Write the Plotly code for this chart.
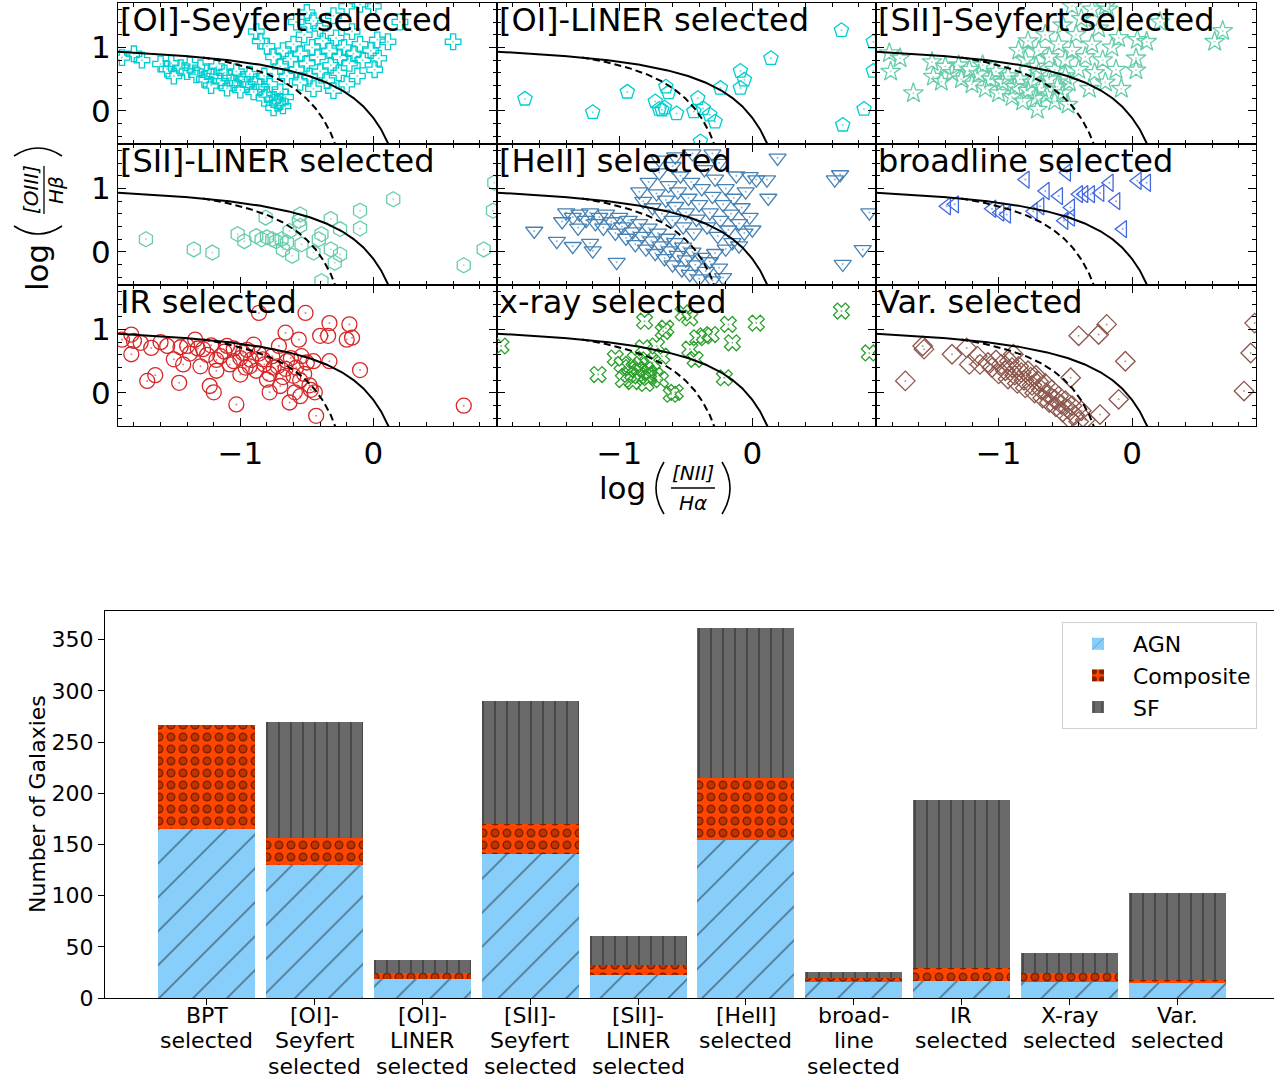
import numpy as np
import plotly.graph_objects as go

W, H = 1274, 1078

# ---------------- BPT panel data ----------------
panel_titles = ["[OI]-Seyfert selected", "[OI]-LINER selected", "[SII]-Seyfert selected",
                "[SII]-LINER selected", "[HeII] selected", "broadline selected",
                "IR selected", "x-ray selected", "Var. selected"]

oi_sey_x = [-1.89,-1.80,-1.74,-1.60,-1.55,-1.50,-1.52,-1.45,-1.40,-1.38,-1.33,-1.30,-1.27,-1.25,-1.22,-1.20,-1.18,-1.15,-1.12,-1.10,
            -1.08,-1.05,-1.03,-1.00,-0.98,-0.95,-0.93,-0.90,-0.88,-0.85,-0.82,-0.80,-0.78,-0.75,-0.72,-0.70,-0.68,-0.66,-0.82,-0.75,-0.70,
            -0.88,-0.85,-0.80,-0.75,-0.70,-0.68,-0.65,-0.62,-0.60,-0.58,-0.55,-0.55,-0.52,-0.50,-0.48,-0.46,-0.45,-0.42,-0.40,-0.40,
            -0.38,-0.35,-0.33,-0.32,-0.30,-0.28,-0.26,-0.25,-0.22,-0.20,-0.18,-0.16,-0.15,-0.12,-0.10,-0.08,
            -0.58,-0.50,-0.30,-0.20,-0.10,0.00,-0.45,
            0.03,0.11,0.04,0.01,0.20,0.60,-0.02]
oi_sey_y = [0.84,0.90,0.80,0.74,0.66,0.55,0.75,0.68,0.62,0.72,0.57,0.68,0.50,0.62,0.40,0.55,0.70,0.47,0.60,0.36,
            0.52,0.44,0.62,0.33,0.50,0.42,0.58,0.30,0.46,0.38,0.55,0.26,0.42,0.18,0.12,0.30,0.08,0.22,0.20,0.05,0.15,
            1.25,1.10,1.02,0.85,0.70,0.95,0.55,0.82,1.05,0.65,0.90,0.45,1.20,0.75,0.55,1.00,0.35,0.85,0.62,1.30,
            1.10,0.48,0.95,0.72,0.32,1.15,0.60,0.85,1.00,0.42,0.75,1.25,0.90,0.55,1.05,0.80,
            1.40,1.55,1.50,1.65,1.68,1.65,1.42,
            1.12,1.09,0.83,0.65,1.40,1.09,0.95]

oi_lin_x = [-1.71,-1.20,-0.94,-0.73,-0.68,-0.65,-0.63,-0.57,-0.44,-0.41,-0.37,-0.32,-0.28,-0.39,-0.24,-0.09,-0.06,-0.09,
            0.14,0.67,0.84,0.68,0.91,0.91,-0.70,-0.66]
oi_lin_y = [0.19,-0.02,0.30,0.15,0.02,0.38,0.29,-0.04,-0.01,0.20,0.04,-0.06,-0.17,-0.48,0.36,0.63,0.49,0.36,
            0.83,1.27,0.03,-0.22,0.63,1.09,0.03,0.05]

sii_sey_x = [-1.82,-1.74,-1.81,-1.64,-1.50,-1.49,-1.43,
             -1.40,-1.35,-1.30,-1.28,-1.22,-1.20,-1.15,-1.12,-1.10,-1.06,-1.02,-1.00,-0.97,-0.93,-0.90,-0.88,-0.84,-0.82,
             -0.78,-0.75,-0.72,-0.70,-0.68,-0.64,-0.62,-0.58,-0.56,-0.52,-0.50,-0.48,
             -0.85,-0.80,-0.78,-0.72,-0.70,-0.65,-0.62,-0.58,-0.55,-0.52,-0.50,-0.47,-0.45,-0.42,-0.40,-0.38,-0.35,-0.32,
             -0.30,-0.28,-0.25,-0.22,-0.20,-0.18,-0.15,-0.12,-0.10,-0.08,-0.20,-0.30,-0.45,
             0.04,0.11,0.03,0.03,0.62,0.68,0.21,-0.71]
sii_sey_y = [0.91,0.83,0.62,0.28,0.77,0.54,0.46,
             0.70,0.60,0.72,0.50,0.65,0.42,0.58,0.72,0.35,0.50,0.62,0.28,0.45,0.55,0.22,0.38,0.50,0.15,
             0.32,0.45,0.20,0.60,0.36,0.25,0.50,0.15,0.38,0.28,0.55,0.10,
             0.95,0.80,1.10,0.70,0.95,1.20,0.85,0.65,1.05,1.35,0.80,0.45,0.95,1.20,0.65,1.45,0.85,0.35,
             1.05,0.60,1.30,0.80,0.45,1.60,1.00,0.65,1.15,0.35,1.65,1.60,1.65,
             1.12,1.09,0.83,0.64,1.09,1.26,1.40,0.02]

sii_lin_x = [-1.71,-1.35,-1.21,-1.02,-0.97,-0.88,-0.81,-0.84,-0.80,-0.76,-0.73,-0.69,-0.65,-0.61,-0.68,-0.63,-0.56,-0.55,
             -0.55,-0.54,-0.45,-0.41,-0.39,-0.39,-0.32,-0.32,-0.29,-0.25,-0.25,-0.10,-0.10,0.15,0.68,0.83,0.90,0.91]
sii_lin_y = [0.20,0.04,-0.01,0.28,0.17,0.25,0.54,0.20,0.23,0.20,0.17,0.20,0.15,-0.06,0.04,0.33,0.49,0.59,
             0.41,0.12,-0.01,0.20,0.28,-0.46,0.52,0.04,-0.17,-0.04,0.36,0.65,0.37,0.83,-0.21,0.04,0.65,1.09]

heii_x = [0.62,0.66,0.68,0.83,0.88,0.19,0.11,0.03,0.12,-0.02,
          -1.64,-1.47,-1.35,-1.22,-1.20,-1.02,-1.43,-1.31,
          -1.40,-1.35,-1.30,-1.25,-1.22,-1.18,-1.15,-1.12,-1.10,-1.06,-1.03,-1.00,-0.98,-0.95,-0.93,-0.90,-0.88,-0.85,
          -0.83,-0.80,-0.78,-0.76,-0.73,-0.71,-0.69,-0.66,-0.64,-0.62,-0.60,-0.58,-0.56,-0.53,-0.52,-0.50,-0.47,-0.45,
          -0.43,-0.40,-0.38,-0.35,-0.32,-0.30,-0.28,-0.25,-0.22,-0.20,
          -0.85,-0.82,-0.78,-0.75,-0.72,-0.70,-0.68,-0.65,-0.63,-0.60,-0.58,-0.56,-0.54,-0.52,-0.50,-0.48,-0.46,-0.44,
          -0.42,-0.40,-0.38,-0.36,-0.34,-0.32,-0.30,-0.28,-0.26,-0.24,-0.22,-0.20,-0.18,-0.16,-0.14,-0.12,-0.10,-0.08,
          -0.06,-0.05,-0.15,-0.10,-0.02,0.00,-0.70,-0.58,-0.45,-0.30,-0.60,-0.25]
heii_y = [1.14,1.22,-0.19,0.04,0.62,1.48,1.14,1.14,0.85,1.19,
          0.33,0.17,0.09,0.14,0.02,-0.16,0.48,0.38,
          0.62,0.55,0.60,0.50,0.62,0.45,0.55,0.38,0.60,0.48,0.30,0.55,0.40,0.22,0.50,0.32,0.12,0.45,
          0.25,0.05,0.38,0.18,-0.02,0.30,0.10,-0.10,0.22,0.02,-0.20,0.15,-0.05,-0.28,0.08,-0.12,-0.35,0.00,
          -0.20,-0.42,-0.08,-0.30,-0.15,-0.45,-0.02,-0.25,-0.40,0.05,
          0.95,0.80,1.10,0.70,0.92,1.25,0.60,0.82,1.05,0.50,0.72,0.95,1.20,0.40,0.62,0.85,1.10,0.30,
          0.52,0.75,1.00,1.30,0.40,0.62,0.88,1.15,0.25,0.50,0.75,1.00,0.35,0.60,0.85,1.20,0.45,0.70,
          0.30,0.95,0.15,0.10,0.55,0.35,1.45,1.50,1.55,1.55,1.35,1.40]

bl_x = [-1.39,-1.33,-1.05,-0.99,-0.94,-0.80,-0.74,-0.69,-0.65,-0.55,-0.51,-0.49,-0.46,-0.46,-0.40,-0.36,-0.31,-0.24,
        -0.17,-0.12,-0.07,0.04,0.11]
bl_y = [0.72,0.75,0.68,0.62,0.59,1.14,0.64,0.72,0.96,0.88,0.49,1.25,0.70,0.54,0.91,0.91,0.91,0.93,
        1.09,0.80,0.36,1.12,1.09]

ir_x = [-1.89,-1.82,-1.80,-1.82,-1.75,-1.70,-1.64,-1.67,-1.55,-1.50,-1.46,-1.43,-1.40,-1.34,-1.30,-1.28,-1.23,-1.20,
        -1.18,-1.15,-1.10,-1.05,-1.03,-1.00,-0.98,-0.93,-0.90,-0.86,-0.83,-0.80,-0.78,-0.75,-0.71,-0.70,-0.66,-0.65,
        -0.63,-0.60,-0.59,-0.56,-0.55,-0.54,-0.51,-0.45,-0.44,-0.43,-0.40,-0.34,-0.33,-0.33,-0.20,-0.18,-0.16,-0.10,0.68,
        -1.60,-1.45,-1.38,-1.32,-1.25,-1.22,-1.18,-1.12,-1.08,-1.05,-1.00,-0.96,-0.95,-0.92,-0.88,-0.86,-0.82,-0.78,
        -0.76,-0.72,-0.68,-0.66,-0.62,-0.58,-0.55,-0.52,-0.50,-0.48,-0.47]
ir_y = [0.84,0.92,0.82,0.61,0.79,0.19,0.28,0.71,0.74,0.53,0.16,0.45,0.74,0.84,0.42,0.69,0.11,0.01,
        0.35,0.58,0.74,0.50,-0.18,0.29,0.63,0.42,0.76,1.26,0.53,0.21,0.01,0.40,0.74,0.11,0.95,0.50,
        -0.15,0.27,0.01,0.84,-0.05,0.58,1.26,0.50,0.01,-0.36,0.90,0.90,1.10,0.50,0.84,1.08,0.87,0.36,-0.20,
        0.80,0.72,0.62,0.70,0.60,0.75,0.52,0.65,0.45,0.70,0.55,0.40,0.68,0.52,0.35,0.62,0.45,0.30,
        0.58,0.42,0.25,0.38,0.55,0.40,0.20,0.30,0.48,0.12,0.05]

xray_x = [-1.89,-1.16,-1.03,-0.98,-0.97,-0.93,-0.88,-0.87,-0.85,-0.82,-0.81,-0.80,-0.78,-0.75,-0.72,-0.69,-0.68,
          -0.67,-0.65,-0.61,-0.58,-0.52,-0.47,-0.47,-0.43,-0.41,-0.36,-0.31,-0.21,-0.18,-0.15,0.03,0.67,0.88,
          -0.92,-0.84,-0.78,-0.73,-0.90,-0.80]
xray_y = [0.74,0.29,0.55,0.45,0.21,0.29,0.53,0.37,0.27,0.71,1.13,0.37,0.24,0.48,0.74,0.21,0.58,
          0.97,1.02,-0.02,0.01,1.26,1.18,0.69,0.53,0.87,0.90,0.92,0.24,1.08,0.79,1.10,1.29,0.63,
          0.40,0.45,0.32,0.28,0.18,0.15]

var_x = [-1.70,-1.57,-1.56,-1.35,-1.24,-1.22,-1.16,-1.14,
         -1.08,-1.05,-1.02,-1.00,-0.98,-0.95,-0.93,-0.92,-0.90,-0.88,-0.86,-0.85,-0.83,-0.81,-0.80,-0.78,-0.76,-0.75,
         -0.73,-0.72,-0.70,-0.68,-0.67,-0.65,-0.63,-0.62,-0.60,-0.58,-0.57,-0.55,-0.53,-0.52,-0.50,-0.48,-0.47,-0.45,
         -0.43,-0.40,-0.38,-0.35,
         -0.89,-0.46,-0.40,-0.25,-0.19,-0.10,-0.05,-0.24,0.84,0.89,0.92]
var_y = [0.19,0.74,0.69,0.61,0.71,0.45,0.58,0.45,
         0.48,0.40,0.52,0.30,0.45,0.35,0.22,0.50,0.40,0.28,0.15,0.42,0.32,0.20,0.08,0.35,0.25,0.12,
         0.00,0.28,0.18,0.05,-0.08,0.15,-0.02,-0.15,0.05,-0.10,-0.22,-0.05,-0.18,-0.30,-0.12,-0.25,-0.40,-0.20,
         -0.35,-0.45,-0.28,-0.42,
         0.61,0.24,0.90,0.92,1.08,-0.10,0.50,-0.34,0.03,0.63,1.10]

# ---------------- bar chart data ----------------
bar_labels = ["BPT<br>selected", "[OI]-<br>Seyfert<br>selected", "[OI]-<br>LINER<br>selected",
              "[SII]-<br>Seyfert<br>selected", "[SII]-<br>LINER<br>selected", "[HeII]<br>selected",
              "broad-<br>line<br>selected", "IR<br>selected", "X-ray<br>selected", "Var.<br>selected"]
agn_counts = [165, 130, 19, 141, 22, 154, 16, 17, 16, 15]
comp_counts = [102, 26, 5, 29, 10, 61, 4, 12, 8, 3]
sf_counts = [0, 114, 13, 120, 29, 146, 5, 164, 20, 85]
y_ticks = [0, 50, 100, 150, 200, 250, 300, 350]

# ---------------- styles ----------------
panel_styles = [
    ("cross-open", 13, "#00CED1"),
    ("pentagon-open", 15, "#00CED1"),
    ("star-open", 15, "#66CDAA"),
    ("hexagon-open", 15, "#66CDAA"),
    ("triangle-down-open", 15, "#4682B4"),
    ("triangle-left-open", 15, "#4169E1"),
    ("circle-open", 15, "#D62728"),
    ("x-open", 14, "#2CA02C"),
    ("diamond-open", 15, "#8C564B"),
]
panel_data = [(oi_sey_x, oi_sey_y), (oi_lin_x, oi_lin_y), (sii_sey_x, sii_sey_y),
              (sii_lin_x, sii_lin_y), (heii_x, heii_y), (bl_x, bl_y),
              (ir_x, ir_y), (xray_x, xray_y), (var_x, var_y)]
for xs, ys in panel_data:
    assert len(xs) == len(ys)

FONT = "DejaVu Sans"
col_edges = [118, 497, 876, 1256]
row_edges = [3, 144, 285, 426]
XR = [-1.92, 0.93]
YR = [-0.52, 1.70]

# demarcation curves (Kewley 2001 solid, Kauffmann 2003 dashed)
kew_x = np.linspace(-1.95, 0.30, 400)
kew_y = 0.61 / (kew_x - 0.47) + 1.19
kau_x = np.linspace(-1.28, 0.0, 300)
kau_y = 0.61 / (kau_x - 0.05) + 1.3

fig = go.Figure()
layout = {}
annotations = []
shapes = []

for i, ((xs, ys), (sym, size, col)) in enumerate(zip(panel_data, panel_styles)):
    r, c = divmod(i, 3)
    n = "" if i == 0 else str(i + 1)
    xa, ya = "x" + n, "y" + n
    fig.add_trace(go.Scatter(x=xs, y=ys, mode="markers", xaxis=xa, yaxis=ya, showlegend=False,
                             marker=dict(symbol=sym, size=size, color=col, line=dict(width=1.3, color=col))))
    fig.add_trace(go.Scatter(x=xs, y=ys, mode="markers", xaxis=xa, yaxis=ya, showlegend=False,
                             marker=dict(symbol="circle", size=2, color=col, opacity=0.6)))
    fig.add_trace(go.Scatter(x=kew_x, y=kew_y, mode="lines", xaxis=xa, yaxis=ya, showlegend=False,
                             line=dict(color="black", width=2)))
    fig.add_trace(go.Scatter(x=kau_x, y=kau_y, mode="lines", xaxis=xa, yaxis=ya, showlegend=False,
                             line=dict(color="black", width=2, dash="7px,4px")))
    common = dict(showline=True, linecolor="black", linewidth=1.3, mirror="allticks",
                  ticks="inside", ticklen=8, tickwidth=1.3, tickcolor="black",
                  showgrid=False, zeroline=False, tick0=0, dtick=1, automargin=False,
                  tickfont=dict(family=FONT, size=31, color="black"),
                  minor=dict(ticks="inside", ticklen=4, tickwidth=1, tickcolor="black",
                             tick0=0, dtick=0.2, showgrid=False))
    layout["xaxis" + n] = dict(domain=[col_edges[c] / W, col_edges[c + 1] / W], range=XR, anchor=ya,
                               showticklabels=(r == 2), **common)
    layout["yaxis" + n] = dict(domain=[1 - row_edges[r + 1] / H, 1 - row_edges[r] / H], range=YR, anchor=xa,
                               showticklabels=(c == 0), **common)
    annotations.append(dict(text=panel_titles[i], xref=xa + " domain", yref=ya + " domain", x=0, y=1,
                            xanchor="left", yanchor="top", showarrow=False, xshift=0, yshift=4,
                            font=dict(family=FONT, size=32, color="black")))

# ---------------- bar chart ----------------
x_pos = list(range(len(bar_labels)))
base_comp = list(agn_counts)
base_sf = [a + b for a, b in zip(agn_counts, comp_counts)]
fig.add_trace(go.Bar(x=x_pos, y=agn_counts, base=[0] * len(x_pos), width=0.9, name="AGN", xaxis="x10", yaxis="y10",
                     marker=dict(color="#87CEFA", line=dict(width=0),
                                 pattern=dict(shape="/", fgcolor="black", size=24, solidity=0.06))))
fig.add_trace(go.Bar(x=x_pos, y=comp_counts, base=base_comp, width=0.9, name="Composite", xaxis="x10", yaxis="y10",
                     marker=dict(color="#FF4500", line=dict(width=0),
                                 pattern=dict(shape=".", fgcolor="black", size=12, solidity=0.44))))
fig.add_trace(go.Bar(x=x_pos, y=comp_counts, base=base_comp, width=0.9, showlegend=False, xaxis="x10", yaxis="y10",
                     marker=dict(color="rgba(0,0,0,0)", line=dict(width=0),
                                 pattern=dict(shape=".", fgcolor="#FF4500", bgcolor="rgba(0,0,0,0)",
                                              size=12, solidity=0.20))))
fig.add_trace(go.Bar(x=x_pos, y=sf_counts, base=base_sf, width=0.9, name="SF", xaxis="x10", yaxis="y10",
                     marker=dict(color="#696969", line=dict(width=0),
                                 pattern=dict(shape="|", fgcolor="black", size=12, solidity=0.1))))

layout["xaxis10"] = dict(domain=[105 / W, 1.0], range=[-0.945, 9.899], anchor="y10",
                         tickmode="array", tickvals=x_pos, showticklabels=False,
                         ticks="outside", ticklen=6, tickcolor="black", showline=True, linecolor="black",
                         linewidth=1.2, mirror=True, showgrid=False, zeroline=False, automargin=False)
layout["yaxis10"] = dict(domain=[1 - 998 / H, 1 - 611 / H], range=[0, 378], anchor="x10",
                         tickmode="array", tickvals=y_ticks,
                         ticks="outside", ticklen=6, tickcolor="black", showline=True, linecolor="black",
                         linewidth=1.2, showgrid=False, zeroline=False, automargin=False,
                         tickfont=dict(family=FONT, size=22, color="black"))

# category labels, one text line each (matplotlib-like tight line spacing)
for xi, lab in zip(x_pos, bar_labels):
    for j, line in enumerate(lab.split("<br>")):
        annotations.append(dict(text=line, xref="x10", yref="paper", x=xi, y=1 - (1015 + 25.5 * j) / H,
                                xanchor="center", yanchor="middle", showarrow=False,
                                font=dict(family=FONT, size=22, color="black")))

annotations.append(dict(text="Number of Galaxies", xref="paper", yref="paper", x=37 / W, y=1 - 804 / H,
                        textangle=-90, showarrow=False, xanchor="center", yanchor="middle",
                        font=dict(family=FONT, size=22, color="black")))

# ---------------- BPT axis labels (log of ratios) ----------------
def P(px, py):
    return px / W, 1 - py / H

def txt(s, px, py, size, angle=0, italic=False):
    x, y = P(px, py)
    t = "<i>%s</i>" % s if italic else s
    annotations.append(dict(text=t, xref="paper", yref="paper", x=x, y=y, textangle=angle,
                            showarrow=False, xanchor="center", yanchor="middle",
                            font=dict(family=FONT, size=size, color="black")))

def qpath(p0, pc, p1):
    a, b, c = P(*p0), P(*pc), P(*p1)
    return "M %f,%f Q %f,%f %f,%f" % (a[0], a[1], b[0], b[1], c[0], c[1])

# x label
txt("log", 622, 488, 31)
shapes.append(dict(type="path", xref="paper", yref="paper", path=qpath((664, 462), (648, 488), (664, 514)),
                   line=dict(color="black", width=1.6)))
txt("[NII]", 693, 473, 20, italic=True)
x0, y0 = P(671, 488); x1, _ = P(715, 488)
shapes.append(dict(type="line", xref="paper", yref="paper", x0=x0, y0=y0, x1=x1, y1=y0,
                   line=dict(color="black", width=1.3)))
txt("Hα", 693, 503, 20, italic=True)
shapes.append(dict(type="path", xref="paper", yref="paper", path=qpath((722, 462), (738, 488), (722, 514)),
                   line=dict(color="black", width=1.6)))

# y label (rotated)
txt("log", 37, 268, 31, angle=-90)
shapes.append(dict(type="path", xref="paper", yref="paper", path=qpath((14, 226), (38, 242), (62, 226)),
                   line=dict(color="black", width=1.6)))
txt("[OIII]", 31, 190, 20, angle=-90, italic=True)
xa0, ya0 = P(44, 214); _, ya1 = P(44, 166)
shapes.append(dict(type="line", xref="paper", yref="paper", x0=xa0, y0=ya0, x1=xa0, y1=ya1,
                   line=dict(color="black", width=1.3)))
txt("Hβ", 56, 190, 20, angle=-90, italic=True)
shapes.append(dict(type="path", xref="paper", yref="paper", path=qpath((14, 156), (38, 140), (62, 156)),
                   line=dict(color="black", width=1.6)))

layout.update(dict(
    width=W, height=H, margin=dict(l=0, r=0, t=0, b=0, autoexpand=False),
    paper_bgcolor="white", plot_bgcolor="white",
    barmode="overlay", bargap=0,
    font=dict(family=FONT, color="black"),
    annotations=annotations, shapes=shapes,
    legend=dict(x=1062 / W, y=1 - 622 / H, xanchor="left", yanchor="top", bgcolor="white",
                bordercolor="#d0d0d0", borderwidth=1, font=dict(family=FONT, size=22, color="black"),
                itemwidth=60, traceorder="normal"),
))
fig.update_layout(layout)
fig.write_html("out.html")
